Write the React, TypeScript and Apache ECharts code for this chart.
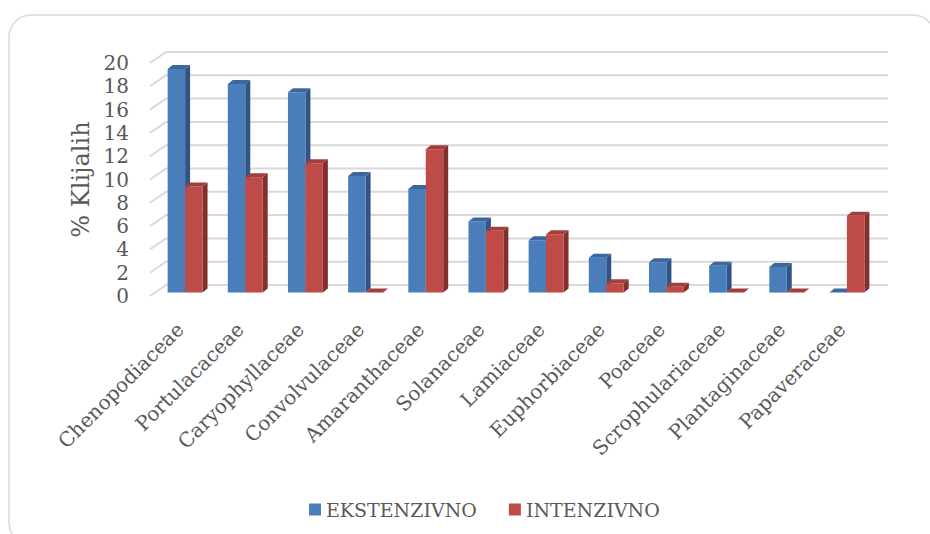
import React, { useEffect, useRef } from "react";
import * as echarts from "echarts";

const categories = [
  "Chenopodiaceae",
  "Portulacaceae",
  "Caryophyllaceae",
  "Convolvulaceae",
  "Amaranthaceae",
  "Solanaceae",
  "Lamiaceae",
  "Euphorbiaceae",
  "Poaceae",
  "Scrophulariaceae",
  "Plantaginaceae",
  "Papaveraceae",
];
const ekstenzivno = [19.2, 17.9, 17.2, 10.0, 8.9, 6.1, 4.5, 3.0, 2.6, 2.3, 2.2, 0];
const intenzivno = [9.1, 9.9, 11.1, 0, 12.3, 5.3, 5.0, 0.8, 0.5, 0, 0, 6.6];
const yTicks = [0, 2, 4, 6, 8, 10, 12, 14, 16, 18, 20];

const FONT = "'DejaVu Serif', serif";
const TEXT = "#595959";

// 3D styling
const DEPTH_X = 16; // wall depth
const DEPTH_Y = 11;
const BAR_OFF_X = 5; // bars sit slightly behind the front plane
const BAR_OFF_Y = -3.4;
const BAR_DX = 5; // bar own depth
const BAR_DY = 4;

const palettes = [
  { front: "#4a7ebb", top: "#3b679d", side: "#2f5485" },
  { front: "#be4b48", top: "#a23e3b", side: "#822f2d" },
];

function makeBarRender(seriesIdx: number) {
  return (params: any, api: any) => {
    const cat = api.value(0);
    const val = api.value(1);
    const base = api.coord([cat, 0]);
    const top = api.coord([cat, val]);
    const band = api.size([1, 0])[0];
    const w = band * 0.29;
    const x0 = base[0] + BAR_OFF_X + (seriesIdx === 0 ? -w : 0);
    const yb = base[1] + BAR_OFF_Y;
    const yt = top[1] + BAR_OFF_Y;
    const p = palettes[seriesIdx];
    return {
      type: "group",
      children: [
        {
          type: "polygon",
          shape: {
            points: [
              [x0 + w, yt],
              [x0 + w + BAR_DX, yt - BAR_DY],
              [x0 + w + BAR_DX, yb - BAR_DY],
              [x0 + w, yb],
            ],
          },
          style: { fill: p.side },
        },
        {
          type: "rect",
          shape: { x: x0, y: yt, width: w, height: Math.max(yb - yt, 0) },
          style: { fill: p.front },
        },
        {
          type: "polygon",
          shape: {
            points: [
              [x0, yt],
              [x0 + w, yt],
              [x0 + w + BAR_DX, yt - BAR_DY],
              [x0 + BAR_DX, yt - BAR_DY],
            ],
          },
          style: { fill: p.top },
        },
      ],
    };
  };
}

function gridRender(params: any, api: any) {
  const v = api.value(1);
  const cs = params.coordSys;
  const y = api.coord([0, v])[1];
  const left = cs.x;
  const right = cs.x + cs.width;
  return {
    type: "polyline",
    shape: {
      points: [
        [left, y],
        [left + DEPTH_X, y - DEPTH_Y],
        [right + DEPTH_X, y - DEPTH_Y],
      ],
    },
    style: { stroke: "#d9d9d9", lineWidth: 2, fill: "none" },
    silent: true,
  };
}

export default function App() {
  const ref = useRef<HTMLDivElement>(null);
  useEffect(() => {
    if (!ref.current) return;
    const chart = echarts.init(ref.current, null, { renderer: "svg" });
    chart.setOption({
      animation: false,
      backgroundColor: "#ffffff",
      graphic: [
        {
          type: "rect",
          shape: { x: 9, y: 15, width: 926, height: 530, r: 22 },
          style: { fill: "none", stroke: "#d9d9d9", lineWidth: 1.5 },
          silent: true,
          z: -10,
        },
      ],
      grid: { left: 150, right: 58, top: 63, bottom: 238 },
      legend: {
        left: 304,
        top: 495,
        itemWidth: 12,
        itemHeight: 12,
        itemGap: 32,
        icon: "rect",
        textStyle: { fontFamily: FONT, fontSize: 19, color: TEXT },
        data: ["EKSTENZIVNO", "INTENZIVNO"],
      },
      xAxis: {
        type: "category",
        data: categories,
        axisLine: { show: false },
        axisTick: { show: false },
        axisLabel: {
          interval: 0,
          rotate: 45,
          margin: 30,
          fontFamily: FONT,
          fontSize: 20,
          color: TEXT,
        },
      },
      yAxis: {
        type: "value",
        min: 0,
        max: 20,
        interval: 2,
        name: "% Klijalih",
        nameLocation: "middle",
        nameRotate: 90,
        nameGap: 56,
        nameTextStyle: { fontFamily: FONT, fontSize: 24, color: TEXT },
        axisLine: { show: false },
        axisTick: { show: false },
        splitLine: { show: false },
        axisLabel: { margin: 21, fontFamily: FONT, fontSize: 20, color: TEXT },
      },
      series: [
        {
          name: "gridlines",
          type: "custom",
          renderItem: gridRender,
          data: yTicks.map((t) => [0, t]),
          z: 1,
          silent: true,
          tooltip: { show: false },
        },
        {
          name: "EKSTENZIVNO",
          type: "custom",
          renderItem: makeBarRender(0),
          itemStyle: { color: palettes[0].front },
          data: ekstenzivno.map((v, i) => [i, v]),
          z: 2,
        },
        {
          name: "INTENZIVNO",
          type: "custom",
          renderItem: makeBarRender(1),
          itemStyle: { color: palettes[1].front },
          data: intenzivno.map((v, i) => [i, v]),
          z: 3,
        },
      ],
    });
    return () => chart.dispose();
  }, []);
  return (
    <div
      ref={ref}
      style={{ position: "fixed", left: 0, top: 0, width: 930, height: 534, background: "#fff" }}
    />
  );
}
